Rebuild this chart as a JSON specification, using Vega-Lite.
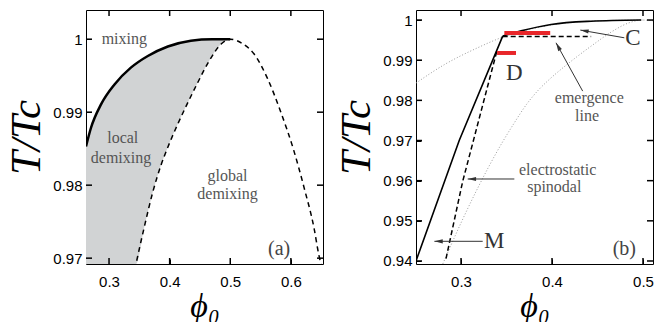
{
  "$schema": "https://vega.github.io/schema/vega-lite/v6.json",
  "padding": {"left": 5, "top": 9, "right": 2, "bottom": 0},
  "spacing": 11,
  "background": "white",
  "config": {
    "view": {"stroke": "black", "strokeWidth": 1},
    "axis": {
      "labelFont": "Liberation Sans", "labelFontSize": 15, "labelColor": "black",
      "domain": false, "grid": false,
      "titleFont": "Liberation Serif", "titleFontStyle": "italic", "titleFontWeight": "normal", "titleColor": "black"
    },
    "tick": {"thickness": 1.5, "size": 12, "color": "black", "opacity": 1},
    "text": {"font": "Liberation Serif"}
  },
  "datasets": {
    "fillA": [
      {"phi": 0.262, "top": 0.9853, "bot": 0.9692},
      {"phi": 0.270, "top": 0.9878, "bot": 0.9692},
      {"phi": 0.287, "top": 0.9911, "bot": 0.9692},
      {"phi": 0.309, "top": 0.9938, "bot": 0.9692},
      {"phi": 0.336, "top": 0.9961, "bot": 0.9692},
      {"phi": 0.3445, "top": 0.9966, "bot": 0.9692},
      {"phi": 0.358, "top": 0.9972, "bot": 0.9742},
      {"phi": 0.372, "top": 0.9980, "bot": 0.9790},
      {"phi": 0.386, "top": 0.9986, "bot": 0.9828},
      {"phi": 0.397, "top": 0.9990, "bot": 0.9852},
      {"phi": 0.413, "top": 0.9994, "bot": 0.9883},
      {"phi": 0.427, "top": 0.9996, "bot": 0.9908},
      {"phi": 0.446, "top": 0.9999, "bot": 0.9940},
      {"phi": 0.465, "top": 1.0, "bot": 0.9970},
      {"phi": 0.4845, "top": 1.0, "bot": 0.9993},
      {"phi": 0.5, "top": 1.0, "bot": 1.0}
    ],
    "binodalA": [
      {"phi": 0.262, "t": 0.9853},
      {"phi": 0.270, "t": 0.9878},
      {"phi": 0.287, "t": 0.9911},
      {"phi": 0.309, "t": 0.9938},
      {"phi": 0.336, "t": 0.9961},
      {"phi": 0.364, "t": 0.9977},
      {"phi": 0.397, "t": 0.9990},
      {"phi": 0.435, "t": 0.9998},
      {"phi": 0.470, "t": 1.0},
      {"phi": 0.500, "t": 1.0}
    ],
    "spinodal": [
      {"phi": 0.280, "t": 0.9393},
      {"phi": 0.300, "t": 0.9495},
      {"phi": 0.318, "t": 0.9580},
      {"phi": 0.3445, "t": 0.9692},
      {"phi": 0.358, "t": 0.9742},
      {"phi": 0.372, "t": 0.9790},
      {"phi": 0.386, "t": 0.9828},
      {"phi": 0.397, "t": 0.9852},
      {"phi": 0.413, "t": 0.9883},
      {"phi": 0.427, "t": 0.9908},
      {"phi": 0.446, "t": 0.9940},
      {"phi": 0.465, "t": 0.9970},
      {"phi": 0.4845, "t": 0.9993},
      {"phi": 0.500, "t": 1.0},
      {"phi": 0.520, "t": 0.9994},
      {"phi": 0.539, "t": 0.9980},
      {"phi": 0.561, "t": 0.9947},
      {"phi": 0.583, "t": 0.9901},
      {"phi": 0.605, "t": 0.9847},
      {"phi": 0.622, "t": 0.9796},
      {"phi": 0.638, "t": 0.9742},
      {"phi": 0.646, "t": 0.9705},
      {"phi": 0.650, "t": 0.9690}
    ],
    "notesA": [
      {"kind": "small", "phi": 0.3252, "t": 1.0, "label": "mixing"},
      {"kind": "small", "phi": 0.3226, "t": 0.98648, "label": "local"},
      {"kind": "small", "phi": 0.3198, "t": 0.98374, "label": "demixing"},
      {"kind": "small", "phi": 0.4955, "t": 0.98123, "label": "global"},
      {"kind": "small", "phi": 0.4955, "t": 0.97881, "label": "demixing"},
      {"kind": "panel", "phi": 0.5806, "t": 0.9712, "label": "(a)"}
    ],
    "ticksXA": [{"v": 0.3}, {"v": 0.4}, {"v": 0.5}, {"v": 0.6}],
    "ticksYA": [{"v": 0.97}, {"v": 0.98}, {"v": 0.99}, {"v": 1.0}],
    "ticksXB": [{"v": 0.3}, {"v": 0.4}, {"v": 0.5}],
    "ticksYB": [{"v": 0.94}, {"v": 0.95}, {"v": 0.96}, {"v": 0.97}, {"v": 0.98}, {"v": 0.99}, {"v": 1.0}],
    "dotted1B": [
      {"phi": 0.2505, "t": 0.9843},
      {"phi": 0.2817, "t": 0.9889},
      {"phi": 0.3183, "t": 0.9931},
      {"phi": 0.344, "t": 0.9956},
      {"phi": 0.400, "t": 0.9988},
      {"phi": 0.450, "t": 0.9998},
      {"phi": 0.500, "t": 1.0}
    ],
    "solidB1": [
      {"phi": 0.2505, "t": 0.9400},
      {"phi": 0.298, "t": 0.9700},
      {"phi": 0.3458, "t": 0.9960}
    ],
    "solidB2": [
      {"phi": 0.3458, "t": 0.9960},
      {"phi": 0.366, "t": 0.9973},
      {"phi": 0.399, "t": 0.9989},
      {"phi": 0.443, "t": 0.9997},
      {"phi": 0.498, "t": 1.0}
    ],
    "dashedB": [
      {"phi": 0.2835, "t": 0.9406},
      {"phi": 0.3018, "t": 0.9598},
      {"phi": 0.3393, "t": 0.9922}
    ],
    "emergenceB": [
      {"phi": 0.3458, "t": 0.9959},
      {"phi": 0.443, "t": 0.9959}
    ],
    "redB": [
      {"x1": 0.3476, "x2": 0.398, "t": 0.9968},
      {"x1": 0.3396, "x2": 0.3604, "t": 0.9918}
    ],
    "arrowsB": [
      {"name": "C", "x1": 0.4795, "y1": 0.99558, "x2": 0.4311, "y2": 0.9975},
      {"name": "emergence", "x1": 0.4337, "y1": 0.9823, "x2": 0.4044, "y2": 0.99433},
      {"name": "electrostatic", "x1": 0.3586, "y1": 0.96042, "x2": 0.3073, "y2": 0.96042},
      {"name": "M", "x1": 0.3238, "y1": 0.9449, "x2": 0.2707, "y2": 0.9449}
    ],
    "notesB": [
      {"kind": "small", "phi": 0.441, "t": 0.98058, "label": "emergence"},
      {"kind": "small", "phi": 0.4385, "t": 0.9760, "label": "line"},
      {"kind": "small", "phi": 0.4062, "t": 0.9627, "label": "electrostatic"},
      {"kind": "small", "phi": 0.4025, "t": 0.9585, "label": "spinodal"},
      {"kind": "big", "phi": 0.489, "t": 0.99555, "label": "C"},
      {"kind": "big", "phi": 0.3586, "t": 0.98683, "label": "D"},
      {"kind": "big", "phi": 0.3366, "t": 0.9449, "label": "M"},
      {"kind": "panel", "phi": 0.4795, "t": 0.9431, "label": "(b)"}
    ]
  },
  "hconcat": [
    {
      "width": 237, "height": 254,
      "layer": [
        {
          "data": {"name": "fillA"},
          "mark": {"type": "area", "color": "#d1d3d4", "clip": true, "interpolate": "monotone"},
          "encoding": {
            "x": {"field": "phi", "type": "quantitative", "scale": {"domain": [0.262, 0.653], "nice": false, "zero": false},
                  "axis": {"orient": "bottom", "values": [0.3, 0.4, 0.5, 0.6], "format": ".2~f", "title": "ϕ₀", "titleFontSize": 34, "ticks": true, "tickSize": 5, "tickColor": "black", "tickWidth": 1, "offset": -5, "labelPadding": 10, "titlePadding": 0}},
            "y": {"field": "top", "type": "quantitative", "scale": {"domain": [0.9692, 1.004], "nice": false, "zero": false},
                  "axis": {"orient": "left", "values": [0.97, 0.98, 0.99, 1], "format": ".2~f", "title": "T/Tc", "titleFontSize": 43, "titleY": 127, "ticks": true, "tickSize": 5, "tickColor": "black", "tickWidth": 1, "offset": -5, "labelPadding": 4, "titlePadding": 4}},
            "y2": {"field": "bot"}
          }
        },
        {
          "data": {"name": "ticksXA"},
          "mark": {"type": "tick", "orient": "vertical", "clip": true},
          "encoding": {"x": {"field": "v", "type": "quantitative"}, "y": {"datum": 0.9692, "type": "quantitative"}}
        },
        {
          "data": {"name": "ticksXA"},
          "mark": {"type": "tick", "orient": "vertical", "clip": true},
          "encoding": {"x": {"field": "v", "type": "quantitative"}, "y": {"datum": 1.004, "type": "quantitative"}}
        },
        {
          "data": {"name": "ticksYA"},
          "mark": {"type": "tick", "orient": "horizontal", "clip": true},
          "encoding": {"y": {"field": "v", "type": "quantitative"}, "x": {"datum": 0.262, "type": "quantitative"}}
        },
        {
          "data": {"name": "ticksYA"},
          "mark": {"type": "tick", "orient": "horizontal", "clip": true},
          "encoding": {"y": {"field": "v", "type": "quantitative"}, "x": {"datum": 0.653, "type": "quantitative"}}
        },
        {
          "data": {"name": "binodalA"},
          "mark": {"type": "line", "color": "black", "strokeWidth": 2.5, "clip": true, "interpolate": "monotone"},
          "encoding": {
            "x": {"field": "phi", "type": "quantitative"},
            "y": {"field": "t", "type": "quantitative"}
          }
        },
        {
          "data": {"name": "spinodal"},
          "mark": {"type": "line", "color": "black", "strokeWidth": 1.5, "strokeDash": [5, 4], "clip": true, "interpolate": "monotone"},
          "encoding": {
            "x": {"field": "phi", "type": "quantitative"},
            "y": {"field": "t", "type": "quantitative"}
          }
        },
        {
          "data": {"name": "notesA"},
          "transform": [{"filter": "datum.kind === 'small'"}],
          "mark": {"type": "text", "fontSize": 16, "color": "#555", "baseline": "middle", "align": "center"},
          "encoding": {
            "x": {"field": "phi", "type": "quantitative"},
            "y": {"field": "t", "type": "quantitative"},
            "text": {"field": "label"}
          }
        },
        {
          "data": {"name": "notesA"},
          "transform": [{"filter": "datum.kind === 'panel'"}],
          "mark": {"type": "text", "fontSize": 20, "color": "#444", "baseline": "middle", "align": "center"},
          "encoding": {
            "x": {"field": "phi", "type": "quantitative"},
            "y": {"field": "t", "type": "quantitative"},
            "text": {"field": "label"}
          }
        }
      ]
    },
    {
      "width": 237, "height": 254,
      "layer": [
        {
          "data": {"name": "dotted1B"},
          "mark": {"type": "line", "color": "#9a9a9a", "strokeWidth": 1, "strokeDash": [1, 2], "clip": true, "interpolate": "monotone"},
          "encoding": {
            "x": {"field": "phi", "type": "quantitative", "scale": {"domain": [0.2505, 0.511], "nice": false, "zero": false},
                  "axis": {"orient": "bottom", "values": [0.3, 0.4, 0.5], "format": ".2~f", "title": "ϕ₀", "titleFontSize": 34, "ticks": true, "tickSize": 5, "tickColor": "black", "tickWidth": 1, "offset": -5, "labelPadding": 10, "titlePadding": 0}},
            "y": {"field": "t", "type": "quantitative", "scale": {"domain": [0.93925, 1.0025], "nice": false, "zero": false},
                  "axis": {"orient": "left", "values": [0.94, 0.95, 0.96, 0.97, 0.98, 0.99, 1], "format": ".2~f", "title": "T/Tc", "titleFontSize": 43, "titleY": 127, "ticks": true, "tickSize": 5, "tickColor": "black", "tickWidth": 1, "offset": -5, "labelPadding": 4, "titlePadding": 4}}
          }
        },
        {
          "data": {"name": "spinodal"},
          "mark": {"type": "line", "color": "#9a9a9a", "strokeWidth": 1, "strokeDash": [1, 2], "clip": true, "interpolate": "monotone"},
          "encoding": {
            "x": {"field": "phi", "type": "quantitative"},
            "y": {"field": "t", "type": "quantitative"}
          }
        },
        {
          "data": {"name": "ticksXB"},
          "mark": {"type": "tick", "orient": "vertical", "clip": true},
          "encoding": {"x": {"field": "v", "type": "quantitative"}, "y": {"datum": 0.93925, "type": "quantitative"}}
        },
        {
          "data": {"name": "ticksXB"},
          "mark": {"type": "tick", "orient": "vertical", "clip": true},
          "encoding": {"x": {"field": "v", "type": "quantitative"}, "y": {"datum": 1.0025, "type": "quantitative"}}
        },
        {
          "data": {"name": "ticksYB"},
          "mark": {"type": "tick", "orient": "horizontal", "clip": true},
          "encoding": {"y": {"field": "v", "type": "quantitative"}, "x": {"datum": 0.2505, "type": "quantitative"}}
        },
        {
          "data": {"name": "ticksYB"},
          "mark": {"type": "tick", "orient": "horizontal", "clip": true},
          "encoding": {"y": {"field": "v", "type": "quantitative"}, "x": {"datum": 0.511, "type": "quantitative"}}
        },
        {
          "data": {"name": "solidB1"},
          "mark": {"type": "line", "color": "black", "strokeWidth": 1.6, "clip": true},
          "encoding": {
            "x": {"field": "phi", "type": "quantitative"},
            "y": {"field": "t", "type": "quantitative"}
          }
        },
        {
          "data": {"name": "solidB2"},
          "mark": {"type": "line", "color": "black", "strokeWidth": 1.6, "clip": true, "interpolate": "monotone"},
          "encoding": {
            "x": {"field": "phi", "type": "quantitative"},
            "y": {"field": "t", "type": "quantitative"}
          }
        },
        {
          "data": {"name": "dashedB"},
          "mark": {"type": "line", "color": "black", "strokeWidth": 1.5, "strokeDash": [5, 3], "clip": true},
          "encoding": {
            "x": {"field": "phi", "type": "quantitative"},
            "y": {"field": "t", "type": "quantitative"}
          }
        },
        {
          "data": {"name": "emergenceB"},
          "mark": {"type": "line", "color": "black", "strokeWidth": 1.5, "strokeDash": [5, 3], "clip": true},
          "encoding": {
            "x": {"field": "phi", "type": "quantitative"},
            "y": {"field": "t", "type": "quantitative"}
          }
        },
        {
          "data": {"name": "redB"},
          "mark": {"type": "rule", "color": "#e8262a", "strokeWidth": 4},
          "encoding": {
            "x": {"field": "x1", "type": "quantitative"},
            "x2": {"field": "x2"},
            "y": {"field": "t", "type": "quantitative"}
          }
        },
        {
          "data": {"name": "arrowsB"},
          "mark": {"type": "rule", "color": "#333", "strokeWidth": 1},
          "encoding": {
            "x": {"field": "x1", "type": "quantitative"},
            "y": {"field": "y1", "type": "quantitative"},
            "x2": {"field": "x2"},
            "y2": {"field": "y2"}
          }
        },
        {
          "data": {"name": "arrowsB"},
          "transform": [{"filter": "datum.name === 'electrostatic' || datum.name === 'M'"}],
          "mark": {"type": "point", "shape": "M0,0L-0.5,2L0.5,2Z", "filled": true, "color": "#333", "size": 70, "angle": 270, "opacity": 1},
          "encoding": {
            "x": {"field": "x2", "type": "quantitative"},
            "y": {"field": "y2", "type": "quantitative"}
          }
        },
        {
          "data": {"name": "arrowsB"},
          "transform": [{"filter": "datum.name === 'C'"}],
          "mark": {"type": "point", "shape": "M0,0L-0.5,2L0.5,2Z", "filled": true, "color": "#333", "size": 70, "angle": 280, "opacity": 1},
          "encoding": {
            "x": {"field": "x2", "type": "quantitative"},
            "y": {"field": "y2", "type": "quantitative"}
          }
        },
        {
          "data": {"name": "arrowsB"},
          "transform": [{"filter": "datum.name === 'emergence'"}],
          "mark": {"type": "point", "shape": "M0,0L-0.5,2L0.5,2Z", "filled": true, "color": "#333", "size": 70, "angle": 331, "opacity": 1},
          "encoding": {
            "x": {"field": "x2", "type": "quantitative"},
            "y": {"field": "y2", "type": "quantitative"}
          }
        },
        {
          "data": {"name": "notesB"},
          "transform": [{"filter": "datum.kind === 'small'"}],
          "mark": {"type": "text", "fontSize": 16, "color": "#555", "baseline": "middle", "align": "center"},
          "encoding": {
            "x": {"field": "phi", "type": "quantitative"},
            "y": {"field": "t", "type": "quantitative"},
            "text": {"field": "label"}
          }
        },
        {
          "data": {"name": "notesB"},
          "transform": [{"filter": "datum.kind === 'big'"}],
          "mark": {"type": "text", "fontSize": 23, "color": "#333", "baseline": "middle", "align": "center"},
          "encoding": {
            "x": {"field": "phi", "type": "quantitative"},
            "y": {"field": "t", "type": "quantitative"},
            "text": {"field": "label"}
          }
        },
        {
          "data": {"name": "notesB"},
          "transform": [{"filter": "datum.kind === 'panel'"}],
          "mark": {"type": "text", "fontSize": 20, "color": "#444", "baseline": "middle", "align": "center"},
          "encoding": {
            "x": {"field": "phi", "type": "quantitative"},
            "y": {"field": "t", "type": "quantitative"},
            "text": {"field": "label"}
          }
        }
      ]
    }
  ]
}
